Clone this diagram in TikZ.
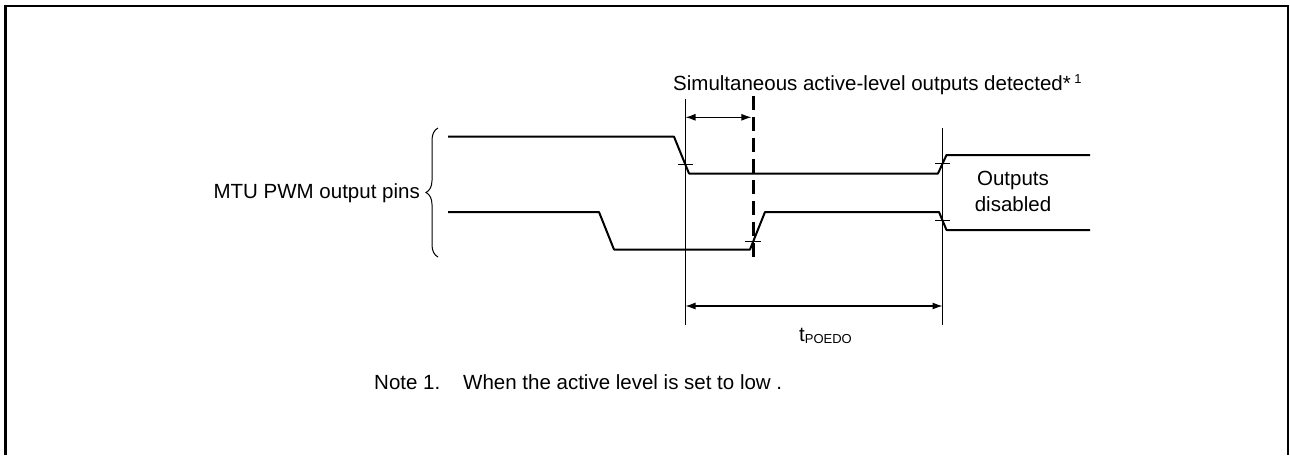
\documentclass[tikz,border=0pt]{standalone}
\usepackage{fontspec}
\setmainfont{Liberation Sans}
\usetikzlibrary{arrows.meta,decorations.pathreplacing}
\begin{document}
\begin{tikzpicture}[x=1pt,y=-1pt,
  wave/.style={line width=2pt, line join=round},
  thinline/.style={line width=1pt},
  tickmark/.style={line width=0.9pt},
  dimarrow/.style={line width=1.1pt, {Latex[length=10pt,width=7pt]}-{Latex[length=10pt,width=7pt]}},
  detline/.style={line width=3.5pt, dash pattern=on 14pt off 7pt},
  lbl/.style={font=\fontsize{20.5}{26}\selectfont, inner sep=0pt},
  framel/.style={line width=2.5pt}]
\useasboundingbox (0,0) rectangle (1290,455);
% frame
\draw[framel] (5.7,455) -- (5.7,6) -- (1288,6) -- (1288,455);

% reference coordinates
\coordinate (v1t) at (685.5,99);
\coordinate (v1b) at (685.5,325);
\coordinate (v2t) at (942.5,128);
\coordinate (v2b) at (942.5,325);
\coordinate (dt) at (753.3,96);
\coordinate (db) at (753.3,258);
\coordinate (a1l) at (685.5,117.3);
\coordinate (a1r) at (751.4,117.3);
\coordinate (a2l) at (685.5,306);
\coordinate (a2r) at (942.5,306);
\coordinate (bb) at (438,257);
\coordinate (bt) at (438,128);

% waveforms
\draw[wave] (448,136.7) -- (674,136.7) -- (689,173.5) -- (938,173.5) -- (946.5,155) -- (1090,155);
\draw[wave] (448,212) -- (599,212) -- (614,249.5) -- (750,249.5) -- (765,212) -- (939,212) -- (946.5,230) -- (1090,230);

% tick marks
\draw[tickmark] (678,164.5) -- (693,164.5);
\draw[tickmark] (745,241.7) -- (761,241.7);
\draw[tickmark] (935,163.5) -- (950,163.5);
\draw[tickmark] (935,220.7) -- (950,220.7);

% vertical reference lines
\draw[thinline] (v1t) -- (v1b);
\draw[thinline] (v2t) -- (v2b);
\draw[detline] (dt) -- (db);

% dimension arrows
\draw[dimarrow] (a1l) -- (a1r);
\draw[dimarrow] (a2l) -- (a2r);

% brace
\draw[thinline, decorate, decoration={brace, amplitude=12pt}] (bb) -- (bt);

% labels
\node[lbl, anchor=base west] (sim) at (673,90) {Simultaneous active-level outputs detected*\,\raisebox{7pt}{\fontsize{13}{15}\selectfont 1}};
\node[lbl, anchor=base east] (mtu) at (420,198) {MTU PWM output pins};
\node[lbl, anchor=base] (outp) at (1013,185) {Outputs};
\node[lbl, anchor=base] (dis) at (1013,211) {disabled};
\node[lbl, anchor=base west] (tpo) at (799,341) {t\raisebox{-2pt}{\fontsize{13}{15}\selectfont POEDO}};
\node[lbl, anchor=base west] (note) at (374,389) {Note 1.};
\node[lbl, anchor=base west] (notetxt) at (463,389) {When the active level is set to low .};
\end{tikzpicture}
\end{document}
